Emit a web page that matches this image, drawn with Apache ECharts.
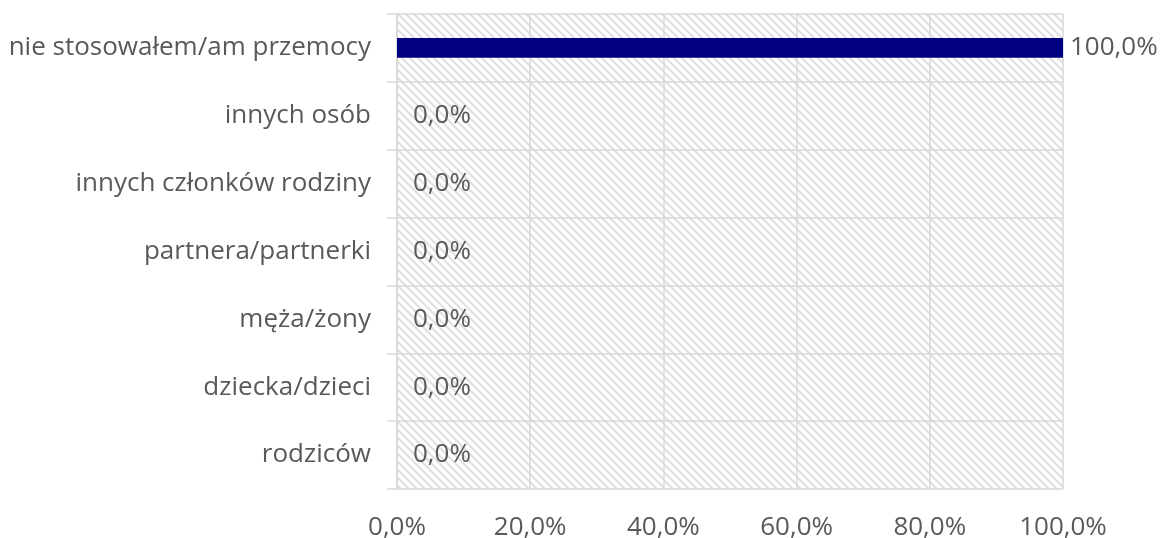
<!DOCTYPE html>
<html><head><meta charset="utf-8">
<script src="https://cdn.jsdelivr.net/npm/echarts@6/dist/echarts.min.js"></script>
<style>html,body{margin:0;padding:0;background:#fff}#c{width:1161px;height:538px}</style>
</head><body><div id="c"></div>
<script>
const categories = ['rodziców','dziecka/dzieci','męża/żony','partnera/partnerki','innych członków rodziny','innych osób','nie stosowałem/am przemocy'];
const values = [0,0,0,0,0,0,100];
const xTicks = [0,20,40,60,80,100];

const fmt = v => v.toFixed(1).replace('.', ',') + '%';

// hatch pattern
const T = 8;
const pc = document.createElement('canvas');
pc.width = T; pc.height = T;
const g = pc.getContext('2d');
g.fillStyle = '#ffffff'; g.fillRect(0,0,T,T);
g.strokeStyle = '#e0e0e0'; g.lineWidth = 2.2;
g.beginPath();
g.moveTo(-2,-2); g.lineTo(T+2,T+2);
g.moveTo(-T-2,-2); g.lineTo(2,T+2);
g.moveTo(T-2,-2); g.lineTo(2*T+2,T+2);
g.stroke();

const chart = echarts.init(document.getElementById('c'));
const font = "'Open Sans', 'Liberation Sans', sans-serif";
chart.setOption({
  animation: false,
  grid: {left: 397, right: 98, top: 14, bottom: 49, show: true, borderWidth: 0,
         outerBoundsMode: 'none', containLabel: false,
         backgroundColor: {image: pc, repeat: 'repeat'}},
  xAxis: {type: 'value', min: xTicks[0], max: xTicks[xTicks.length - 1], interval: xTicks[1] - xTicks[0],
    axisLine: {show: false}, axisTick: {show: false},
    splitLine: {show: true, lineStyle: {color: '#d9d9d9', width: 1.5}},
    axisLabel: {formatter: v => fmt(v), color: '#595959', fontSize: 26, fontFamily: font, margin: 26}},
  yAxis: {type: 'category', data: categories,
    axisLine: {show: true, lineStyle: {color: '#d9d9d9', width: 1.5}},
    axisTick: {show: true, length: 10, lineStyle: {color: '#d9d9d9', width: 1.5}},
    splitLine: {show: true, lineStyle: {color: '#d9d9d9', width: 1.5}},
    axisLabel: {color: '#595959', fontSize: 26, fontFamily: font, margin: 26}},
  series: [{type: 'bar', barWidth: '29%',
    itemStyle: {color: '#000080'},
    data: values.map(v => ({value: v, label: {distance: v === 0 ? 16 : 7}})),
    label: {show: true, position: 'right', formatter: p => fmt(p.value),
      color: '#595959', fontSize: 26, fontFamily: font}}]
});
</script></body></html>
